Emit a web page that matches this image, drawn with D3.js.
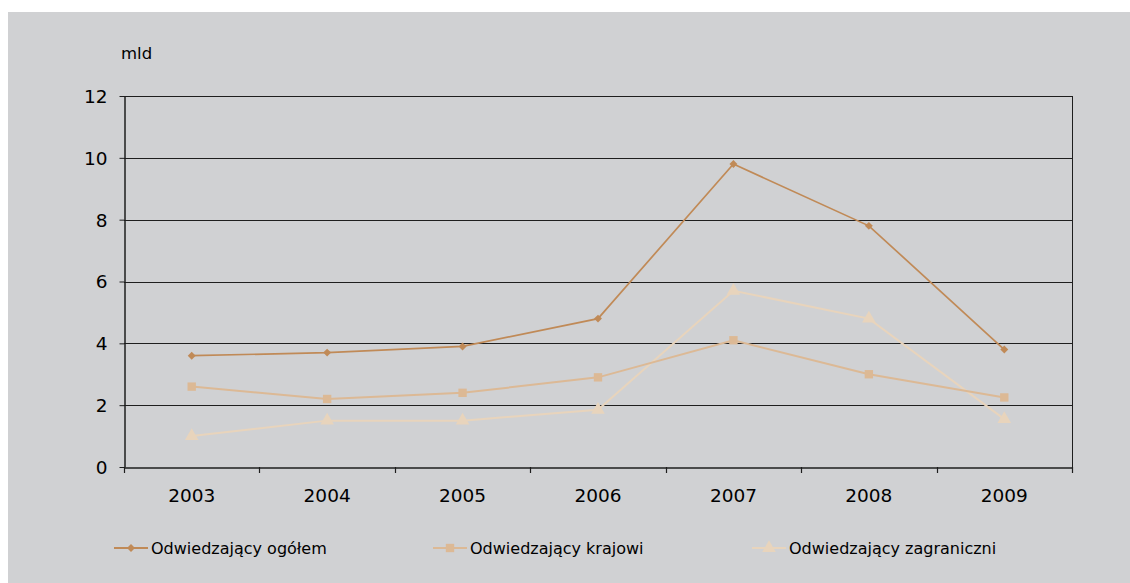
<!DOCTYPE html>
<html><head><meta charset="utf-8">
<script src="https://cdn.jsdelivr.net/npm/d3@7"></script>
<style>
html,body{margin:0;padding:0;background:#fff;}
svg{display:block;}
text{font-family:"DejaVu Sans",sans-serif;fill:#000;}
</style></head>
<body>
<svg id="c" width="1130" height="583"></svg>
<script>
const years = ["2003","2004","2005","2006","2007","2008","2009"];
const ogolem = [3.6, 3.7, 3.9, 4.8, 9.8, 7.8, 3.8];
const krajowi = [2.6, 2.2, 2.4, 2.9, 4.1, 3.0, 2.25];
const zagraniczni = [1.0, 1.5, 1.5, 1.85, 5.7, 4.8, 1.55];
const yTicks = [0, 2, 4, 6, 8, 10, 12];
const seriesNames = ["Odwiedzający ogółem", "Odwiedzający krajowi", "Odwiedzający zagraniczni"];

const series = [
  {name: seriesNames[0], values: ogolem, color: "#c08a57", symbol: d3.symbolDiamond2, size: 40, w: 1.7},
  {name: seriesNames[1], values: krajowi, color: "#dcb995", symbol: d3.symbolSquare, size: 70, w: 2},
  {name: seriesNames[2], values: zagraniczni, color: "#e8d4bc", symbol: d3.symbolTriangle, size: 80, w: 2}
];

const svg = d3.select("#c");
svg.append("rect").attr("x",8).attr("y",12).attr("width",1122).attr("height",571).attr("fill","#d0d1d3");

const pL = 124, pR = 1072, pT = 96, pB = 467;
const x = d3.scaleBand().domain(years).range([pL, pR]);
const y = d3.scaleLinear().domain([0, 12]).range([pB, pT]);

// gridlines
svg.append("g").selectAll("line").data(yTicks.filter(d=>d>0)).join("line")
  .attr("x1", pL).attr("x2", pR)
  .attr("y1", d=>Math.round(y(d))+0.5).attr("y2", d=>Math.round(y(d))+0.5)
  .attr("stroke", "#1e1e1e").attr("stroke-width", 1);

// y axis
const ya = svg.append("g").attr("transform", `translate(${pL+0.5},0)`)
  .call(d3.axisLeft(y).tickValues(yTicks).tickSize(5).tickPadding(12).tickSizeOuter(0));
ya.select(".domain").attr("stroke","#1e1e1e").attr("stroke-width",1.5);
ya.selectAll(".tick line").attr("stroke","#1e1e1e");
ya.selectAll(".tick text").style("font-size","18.5px").attr("dy","0.35em");

// x axis
const xa = svg.append("g").attr("transform", `translate(0,${pB+0.5})`)
  .call(d3.axisBottom(x).tickSize(0).tickPadding(21));
xa.select(".domain").attr("stroke","#1e1e1e").attr("stroke-width",1.5);
xa.selectAll(".tick text").style("font-size","18.5px");
// band boundary ticks
const bounds = years.map(d=>x(d)).concat([pR]);
svg.append("g").selectAll("line").data(bounds).join("line")
  .attr("x1", d=>Math.round(d)+0.5).attr("x2", d=>Math.round(d)+0.5)
  .attr("y1", pB).attr("y2", pB+6)
  .attr("stroke","#1e1e1e").attr("stroke-width",1.2);
// right border
svg.append("line").attr("x1",pR+0.5).attr("x2",pR+0.5).attr("y1",pT).attr("y2",pB)
  .attr("stroke","#1e1e1e").attr("stroke-width",1);

// unit label
svg.append("text").attr("x",121).attr("y",59).style("font-size","16.5px").text("mld");

const cx = d => x(d) + x.bandwidth()/2;
const line = d3.line().x((d,i)=>cx(years[i])).y(d=>y(d));

// draw series in reverse order so ogółem is on top
series.slice().reverse().forEach(s=>{
  svg.append("path").datum(s.values).attr("d", line)
    .attr("fill","none").attr("stroke", s.color).attr("stroke-width", s.w);
  svg.append("g").selectAll("path").data(s.values).join("path")
    .attr("transform",(d,i)=>`translate(${cx(years[i])},${y(d)})`)
    .attr("d", d3.symbol().type(s.symbol).size(s.size))
    .attr("fill", s.color);
});

// legend
const legendX = [114, 433, 752];
const lg = svg.append("g");
series.forEach((s,i)=>{
  const g = lg.append("g").attr("transform",`translate(${legendX[i]},548)`);
  g.append("line").attr("x1",0).attr("x2",34).attr("y1",0).attr("y2",0)
    .attr("stroke",s.color).attr("stroke-width",2);
  g.append("path").attr("transform","translate(17,0)")
    .attr("d", d3.symbol().type(s.symbol).size(s.size)).attr("fill", s.color);
  g.append("text").attr("x",37).attr("y",0).attr("dy","0.35em").style("font-size","16px").text(s.name);
});
</script>
</body></html>
